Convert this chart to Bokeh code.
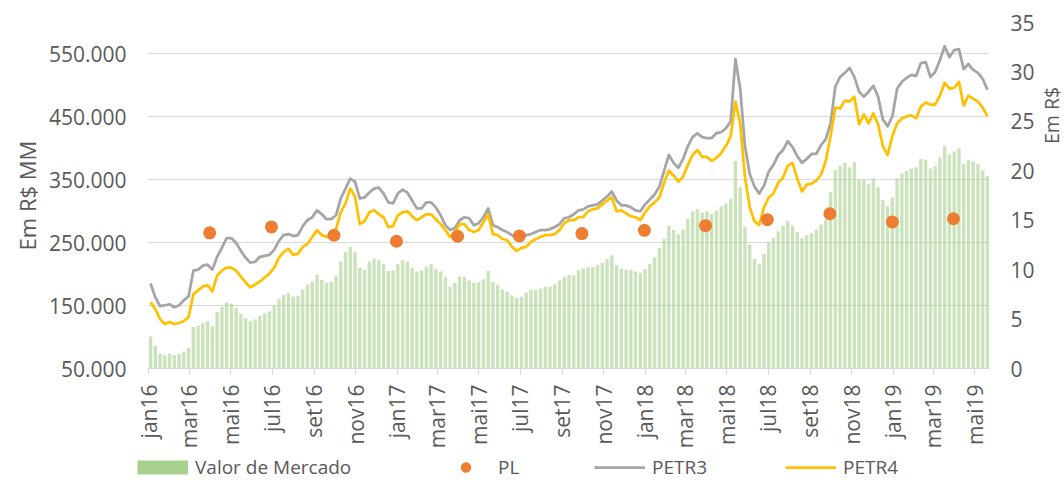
import math
import pandas as pd
from bokeh.plotting import figure
from bokeh.layouts import column, row
from bokeh.models import (Range1d, LinearAxis, FixedTicker, Legend, LegendItem, Title, Label)
from bokeh.embed import file_html
from bokeh.resources import INLINE

# ---------------- data (weekly readings, week starting 2016-01-04) ----------------
week_start = "2016-01-04"

petr3 = [
    8.6, 7.2, 6.3, 6.4, 6.5, 6.2, 6.4, 6.9, 7.3, 9.9,
    10.0, 10.4, 10.5, 10.0, 11.3, 12.2, 13.2, 13.2, 12.7, 11.9,
    11.2, 10.7, 10.8, 11.3, 11.4, 11.5, 12.0, 12.9, 13.5, 13.6,
    13.4, 13.5, 14.4, 15.0, 15.3, 16.0, 15.6, 15.1, 15.1, 15.5,
    17.2, 18.2, 19.2, 18.9, 17.2, 17.3, 17.8, 18.2, 18.3, 17.7,
    16.8, 16.7, 17.7, 18.1, 17.8, 17.0, 16.2, 16.2, 16.8, 16.8,
    16.3, 15.5, 14.5, 14.0, 14.2, 15.0, 15.3, 15.2, 14.5, 14.7,
    15.3, 16.2, 14.5, 14.3, 14.0, 13.8, 13.5, 13.1, 13.3, 13.5,
    13.6, 13.8, 14.0, 14.0, 14.1, 14.3, 14.6, 15.2, 15.3, 15.6,
    16.0, 16.1, 16.4, 16.5, 16.6, 17.0, 17.4, 17.9, 17.0, 16.5,
    16.5, 16.3, 16.0, 15.9, 16.6, 17.1, 17.6, 18.4, 20.0, 21.6,
    20.8, 20.3, 21.2, 22.5, 23.4, 23.8, 23.4, 23.3, 23.3, 23.8,
    23.9, 24.3, 25.0, 31.3, 28.3, 22.5, 19.7, 18.4, 17.7, 18.5,
    19.9, 20.6, 21.6, 22.1, 23.0, 22.4, 21.5, 20.8, 21.2, 21.7,
    21.7, 22.6, 23.2, 24.8, 28.5, 29.5, 29.9, 30.4, 29.5, 28.0,
    27.5, 28.0, 28.6, 27.5, 25.2, 24.5, 25.5, 28.3, 29.0, 29.4,
    29.7, 29.6, 30.9, 31.0, 29.5, 30.0, 31.2, 32.6, 31.5, 32.2,
    32.3, 30.3, 30.8, 30.2, 29.9, 29.3, 28.2,
]

petr4 = [
    6.7, 6.0, 5.0, 4.5, 4.7, 4.5, 4.6, 4.8, 5.2, 7.5,
    7.9, 8.3, 8.4, 7.8, 9.4, 9.9, 10.2, 10.2, 9.9, 9.3,
    8.7, 8.2, 8.5, 8.8, 9.2, 9.6, 10.2, 11.2, 11.8, 12.1,
    11.5, 11.6, 12.3, 12.6, 13.3, 14.0, 13.5, 13.3, 13.6, 14.1,
    15.8, 16.7, 18.2, 17.4, 14.6, 14.9, 15.8, 16.0, 15.6, 15.3,
    14.3, 14.4, 15.5, 15.8, 15.9, 15.4, 15.0, 15.3, 15.6, 15.6,
    15.1, 14.6, 14.0, 13.3, 13.8, 14.6, 14.6, 14.0, 13.8, 14.0,
    14.8, 15.6, 13.6, 13.5, 13.1, 13.0, 12.3, 11.9, 12.2, 12.3,
    12.8, 13.1, 13.3, 13.5, 13.5, 13.6, 14.0, 14.7, 15.0, 15.0,
    15.3, 15.3, 15.9, 16.1, 16.2, 16.6, 17.0, 17.3, 15.9, 16.0,
    15.7, 15.4, 15.3, 15.0, 15.8, 16.4, 16.8, 17.3, 18.8, 20.0,
    19.5, 18.9, 19.4, 20.6, 21.6, 22.1, 21.4, 21.4, 21.0, 21.3,
    21.8, 22.5, 23.5, 27.0, 24.8, 19.4, 16.3, 14.9, 14.5, 16.3,
    17.3, 17.7, 18.8, 19.3, 20.5, 20.8, 19.2, 17.9, 18.6, 18.7,
    19.0, 19.6, 21.0, 23.5, 26.4, 26.3, 27.1, 27.0, 27.5, 24.7,
    25.7, 24.8, 25.8, 24.7, 22.5, 21.6, 23.5, 24.8, 25.3, 25.5,
    25.6, 25.3, 26.5, 26.9, 26.7, 26.7, 27.6, 28.9, 28.3, 28.4,
    29.0, 26.6, 27.6, 27.3, 27.0, 26.4, 25.5,
]

valor_mercado = [
    101000, 86000, 73000, 71000, 74000, 71000, 73000, 77000, 83000, 116000,
    118000, 122000, 125000, 117000, 140000, 148000, 155000, 153000, 146000, 137000,
    130000, 125000, 128000, 134000, 138000, 141000, 150000, 160000, 167000, 170000,
    164000, 165000, 175000, 183000, 188000, 199000, 191000, 186000, 188000, 198000,
    220000, 235000, 243000, 235000, 210000, 207000, 220000, 225000, 222000, 216000,
    205000, 206000, 216000, 222000, 220000, 210000, 204000, 206000, 212000, 216000,
    208000, 204000, 195000, 180000, 186000, 196000, 196000, 190000, 186000, 187000,
    192000, 205000, 188000, 183000, 175000, 172000, 166000, 162000, 164000, 171000,
    175000, 175000, 177000, 180000, 180000, 184000, 190000, 196000, 199000, 198000,
    206000, 209000, 211000, 211000, 214000, 218000, 224000, 230000, 214000, 209000,
    207000, 207000, 204000, 202000, 208000, 216000, 227000, 241000, 256000, 277000,
    270000, 263000, 271000, 288000, 300000, 303000, 298000, 300000, 296000, 301000,
    308000, 312000, 320000, 380000, 338000, 275000, 247000, 224000, 216000, 232000,
    250000, 258000, 268000, 277000, 285000, 277000, 267000, 257000, 262000, 265000,
    270000, 279000, 287000, 330000, 366000, 372000, 377000, 370000, 378000, 350000,
    350000, 343000, 352000, 338000, 318000, 308000, 322000, 352000, 360000, 364000,
    368000, 370000, 383000, 382000, 368000, 372000, 386000, 404000, 390000, 395000,
    400000, 375000, 382000, 379000, 375000, 365000, 356000,
]

pl_dates = [
    "2016-03-31", "2016-06-30", "2016-09-30", "2016-12-31",
    "2017-03-31", "2017-06-30", "2017-09-30", "2017-12-31",
    "2018-03-31", "2018-06-30", "2018-09-30", "2018-12-31", "2019-03-31",
]
pl_values = [
    265600, 275000, 261800, 252300,
    260200, 260800, 264500, 269700,
    277000, 286600, 296000, 283000, 288000,
]

x_tick_dates = [
    "2016-01-01", "2016-03-01", "2016-05-01", "2016-07-01", "2016-09-01", "2016-11-01",
    "2017-01-01", "2017-03-01", "2017-05-01", "2017-07-01", "2017-09-01", "2017-11-01",
    "2018-01-01", "2018-03-01", "2018-05-01", "2018-07-01", "2018-09-01", "2018-11-01",
    "2019-01-01", "2019-03-01", "2019-05-01",
]
x_tick_labels = [
    "jan16", "mar16", "mai16", "jul16", "set16", "nov16",
    "jan17", "mar17", "mai17", "jul17", "set17", "nov17",
    "jan18", "mar18", "mai18", "jul18", "set18", "nov18",
    "jan19", "mar19", "mai19",
]
left_ticks = [50000, 150000, 250000, 350000, 450000, 550000]
left_tick_labels = ["50.000", "150.000", "250.000", "350.000", "450.000", "550.000"]
right_ticks = [0, 5, 10, 15, 20, 25, 30, 35]
legend_labels = ["Valor de Mercado", "PL", "PETR3", "PETR4"]

# ---------------- positions (days since 2016-01-01) ----------------
origin = pd.Timestamp("2016-01-01")
weeks = pd.date_range(week_start, periods=len(petr3), freq="7D")
wx = [(d - origin).days for d in weeks]
pl_x = [(pd.Timestamp(d) - origin).days for d in pl_dates]
tick_x = [(pd.Timestamp(d) - origin).days for d in x_tick_dates]

FONT = "Open Sans"
TXT = "#595959"
GRID = "#D9D9D9"
C_BAR = "#A9D18E"
C_PL = "#ED7D31"
C_P3 = "#A5A5A5"
C_P4 = "#FFC000"


def no_align(fig):
    try:
        fig.frame_align = False
    except Exception:
        pass


p = figure(width=1037, height=451,
           x_range=Range1d(-1.5, 1238), y_range=Range1d(50000, 600000),
           output_backend="svg", toolbar_location=None,
           min_border_left=147, min_border_right=45, min_border_top=22, min_border_bottom=80)
no_align(p)
p.outline_line_color = None
p.background_fill_color = "white"
p.border_fill_color = "white"
p.extra_y_ranges = {"preco": Range1d(0, 35)}

# grid
p.xgrid.visible = False
p.ygrid.ticker = FixedTicker(ticks=left_ticks)
p.ygrid.grid_line_color = GRID
p.ygrid.grid_line_width = 1

# x axis
xa = p.xaxis[0]
xa.ticker = FixedTicker(ticks=tick_x)
xa.major_label_overrides = {int(t): l for t, l in zip(tick_x, x_tick_labels)}
xa.major_label_orientation = math.pi / 2
xa.axis_line_color = GRID
xa.major_tick_line_color = GRID
xa.major_tick_out = 6
xa.major_tick_in = 0
xa.minor_tick_out = 0
xa.minor_tick_in = 0
xa.major_label_standoff = 10
xa.major_label_text_font = FONT
xa.major_label_text_font_size = "21px"
xa.major_label_text_color = TXT

# left axis
ya = p.yaxis[0]
ya.ticker = FixedTicker(ticks=left_ticks)
ya.major_label_overrides = {t: l for t, l in zip(left_ticks, left_tick_labels)}
ya.axis_line_color = None
ya.major_tick_line_color = None
ya.minor_tick_line_color = None
ya.major_tick_out = 0
ya.major_label_standoff = 21
ya.major_label_text_font = FONT
ya.major_label_text_font_size = "21px"
ya.major_label_text_color = TXT

# right axis
ra = LinearAxis(y_range_name="preco", ticker=FixedTicker(ticks=right_ticks))
ra.axis_line_color = None
ra.major_tick_line_color = None
ra.minor_tick_line_color = None
ra.major_tick_out = 0
ra.major_label_standoff = 21
ra.major_label_text_font = FONT
ra.major_label_text_font_size = "21px"
ra.major_label_text_color = TXT
p.add_layout(ra, "right")

# left title
p.add_layout(Title(text="Em R$ MM", align="center", offset=53, standoff=7,
                   text_font=FONT, text_font_size="22px", text_font_style="normal",
                   text_color=TXT), "left")

# glyphs
bars = p.vbar(x=wx, width=5, bottom=50000, top=valor_mercado,
              fill_color=C_BAR, fill_alpha=0.6, line_color=None)
l3 = p.line(wx, petr3, y_range_name="preco", line_color=C_P3, line_width=2.75,
            line_join="round")
l4 = p.line(wx, petr4, y_range_name="preco", line_color=C_P4, line_width=2.75,
            line_join="round")
pl = p.scatter(pl_x, pl_values, size=13, marker="circle", fill_color=C_PL,
               line_color=None)

# ---------------- right title strip ----------------
rf = figure(width=27, height=451, x_range=Range1d(0, 1), y_range=Range1d(0, 1),
            output_backend="svg", toolbar_location=None,
            x_axis_location=None, y_axis_location=None,
            min_border_left=0, min_border_right=0, min_border_top=0, min_border_bottom=0)
no_align(rf)
rf.grid.visible = False
rf.outline_line_color = None
rf.background_fill_color = "white"
rf.border_fill_color = "white"
rf.add_layout(Label(x=13.5, y=336, x_units="screen", y_units="screen", text="Em R$",
                    angle=math.pi / 2, text_align="center", text_baseline="middle",
                    text_font=FONT, text_font_size="19.5px", text_color=TXT))

# ---------------- legend strip below the chart ----------------
lf = figure(width=1064, height=29, x_range=Range1d(0, 1), y_range=Range1d(0, 1),
            output_backend="svg", toolbar_location=None,
            x_axis_location=None, y_axis_location=None,
            min_border_left=0, min_border_right=0, min_border_top=0, min_border_bottom=0)
no_align(lf)
lf.grid.visible = False
lf.outline_line_color = None
lf.background_fill_color = "white"
lf.border_fill_color = "white"

# legend key proxies (single point parked outside the strip's visible range)
k_bar = lf.line(x=[-5], y=[-5], line_color=C_BAR, line_width=14, line_cap="butt")
k_pl = lf.scatter(x=[-5], y=[-5], size=13, marker="circle", fill_color=C_PL, line_color=None)
k_p3 = lf.line(x=[-5], y=[-5], line_color=C_P3, line_width=2.75)
k_p4 = lf.line(x=[-5], y=[-5], line_color=C_P4, line_width=2.75)

for lab, rend, lx in zip(legend_labels, [k_bar, k_pl, k_p3, k_p4], [137, 440, 594, 785]):
    lf.add_layout(Legend(items=[LegendItem(label=lab, renderers=[rend])],
                         location=(lx, 0), orientation="horizontal",
                         glyph_width=51, glyph_height=26, label_height=26, label_standoff=7,
                         padding=0, margin=0, spacing=0,
                         border_line_color=None, background_fill_alpha=0,
                         label_text_font=FONT, label_text_font_size="19px",
                         label_text_color=TXT))

layout = column(row(p, rf, spacing=0), lf, spacing=0)
open("out.html", "w").write(file_html(layout, INLINE))
